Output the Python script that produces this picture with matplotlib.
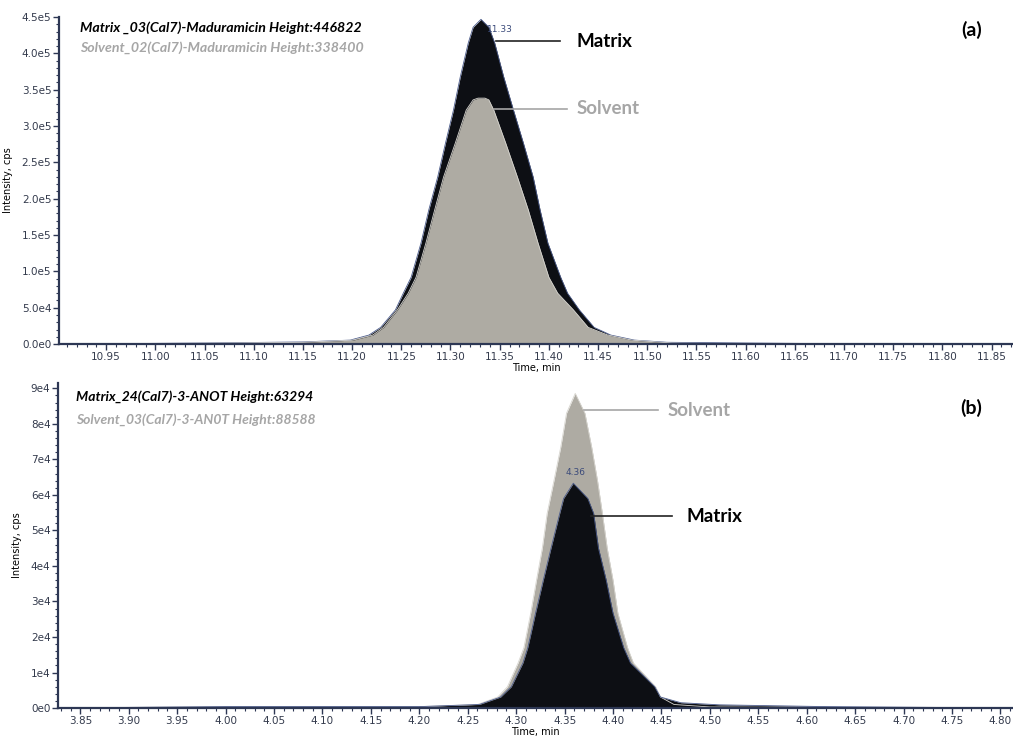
import numpy as np
import matplotlib.pyplot as plt
from matplotlib.ticker import MultipleLocator, FuncFormatter

# panel (a): Maduramicin, time (min) / intensity (cps)
t_mat_a = [10.90, 11.05, 11.15, 11.198, 11.217, 11.229, 11.244, 11.252, 11.260, 11.270, 11.278,
           11.287, 11.295, 11.303, 11.310, 11.318, 11.323, 11.331, 11.339, 11.345, 11.354,
           11.364, 11.374, 11.384, 11.391, 11.399, 11.412, 11.419, 11.431, 11.446, 11.463,
           11.487, 11.52, 11.60, 11.67, 11.87]
i_mat_a = [0, 1500, 3000, 5500, 12400, 23000, 47000, 70000, 92000, 139000, 185000,
           230000, 277000, 322000, 368000, 414000, 436000, 446822, 436000, 414000, 368000,
           322000, 277000, 230000, 185000, 139000, 92000, 70000, 47000, 23000, 12400,
           5500, 2500, 1500, 800, 0]
t_sol_a = [10.90, 11.05, 11.15, 11.201, 11.221, 11.232, 11.246, 11.257, 11.265, 11.275, 11.284,
           11.293, 11.305, 11.316, 11.323, 11.328, 11.335, 11.339, 11.344, 11.356, 11.368,
           11.379, 11.389, 11.400, 11.409, 11.425, 11.440, 11.460, 11.484, 11.525, 11.60, 11.87]
i_sol_a = [0, 1200, 2500, 5500, 12400, 23000, 47000, 70000, 92000, 139000, 185000,
           230000, 277000, 322000, 336000, 338400, 338400, 336000, 322000, 277000, 230000,
           185000, 139000, 92000, 70000, 47000, 23000, 12400, 5500, 1500, 500, 0]

# panel (b): 3-ANOT
t_sol_b = [3.82, 4.00, 4.20, 4.260, 4.281, 4.291, 4.302, 4.308, 4.315, 4.321, 4.327, 4.332,
           4.339, 4.346, 4.352, 4.361, 4.371, 4.378, 4.384, 4.389, 4.394, 4.400, 4.405,
           4.415, 4.421, 4.444, 4.449, 4.463, 4.50, 4.82]
i_sol_b = [0, 400, 400, 1000, 3100, 6000, 12700, 17000, 26700, 36000, 45000, 54800,
           64000, 73400, 83000, 88588, 83000, 73400, 64000, 54800, 45000, 36000, 26700,
           17000, 12700, 6000, 3100, 1000, 300, 0]
t_mat_b = [3.82, 4.00, 4.20, 4.262, 4.284, 4.295, 4.307, 4.312, 4.320, 4.328, 4.336, 4.345,
           4.349, 4.359, 4.374, 4.380, 4.385, 4.393, 4.400, 4.411, 4.418, 4.443, 4.449,
           4.470, 4.51, 4.62, 4.82]
i_mat_b = [0, 400, 400, 1000, 3100, 6000, 12700, 17000, 26700, 36000, 45000, 54800,
           59000, 63294, 59000, 54800, 45000, 36000, 26700, 17000, 12700, 6000, 3100,
           1500, 900, 400, 0]

BLACK = '#0d0f14'
GREY = '#aeaba3'
TXTGREY = '#a6a6a6'
NAVY = '#2d3754'
tickfont = ['Liberation Sans Narrow', 'DejaVu Sans']
labfont = ['Lato', 'DejaVu Sans']

fig = plt.figure(figsize=(10.13, 7.40), dpi=100)
ax1 = fig.add_axes([0.0582, 0.535, 0.942, 0.442])
ax2 = fig.add_axes([0.0573, 0.0432, 0.9427, 0.4392])


def style(ax, xmaj, xmin, ymaj, ymin, yfmt):
    for s in ['top', 'right']:
        ax.spines[s].set_visible(False)
    for s in ['left', 'bottom']:
        ax.spines[s].set_color(NAVY)
        ax.spines[s].set_linewidth(1.6)
    ax.xaxis.set_major_locator(MultipleLocator(xmaj))
    ax.xaxis.set_minor_locator(MultipleLocator(xmin))
    ax.yaxis.set_major_locator(MultipleLocator(ymaj))
    ax.yaxis.set_minor_locator(MultipleLocator(ymin))
    ax.xaxis.set_major_formatter(FuncFormatter(lambda v, p: f'{v:.2f}'))
    ax.yaxis.set_major_formatter(FuncFormatter(yfmt))
    ax.tick_params(which='major', length=4, width=1, color=NAVY, labelsize=7.5,
                   labelcolor='#333a4c', pad=1.5)
    ax.tick_params(which='minor', length=2, width=0.8, color=NAVY)
    for lab in ax.get_xticklabels() + ax.get_yticklabels():
        lab.set_family(tickfont)


def fmt_a(v, p):
    if v < 0:
        return ''
    if v == 0:
        return '0.0e0'
    e = int(np.floor(np.log10(v)))
    return f'{v / 10**e:.1f}e{e}'


def fmt_b(v, p):
    if v < 0:
        return ''
    if v == 0:
        return '0e0'
    e = int(np.floor(np.log10(v)))
    return f'{v / 10**e:.0f}e{e}'


# (a)
ax1.fill_between(t_mat_a, i_mat_a, color=BLACK, lw=0)
ax1.plot(t_mat_a, i_mat_a, color='#4a5a8a', lw=0.6)
ax1.fill_between(t_sol_a, i_sol_a, color=GREY, lw=0)
ax1.plot(t_sol_a, i_sol_a, color='#d8d6d0', lw=0.6)
ax1.set_xlim(10.902, 11.872)
ax1.set_ylim(0, 4.5e5)
style(ax1, 0.05, 0.01, 5e4, 1e4, fmt_a)
ax1.set_xlabel('Time, min', fontsize=7, family=tickfont, labelpad=1)
ax1.set_ylabel('Intensity, cps', fontsize=7, family=tickfont, labelpad=6)

ax1.text(0.022, 0.969, 'Matrix _03(Cal7)-Maduramicin Height:446822', transform=ax1.transAxes,
         fontsize=10.2, fontweight='bold', style='italic', color='black', va='center', family=labfont)
ax1.text(0.022, 0.908, 'Solvent_02(Cal7)-Maduramicin Height:338400', transform=ax1.transAxes,
         fontsize=10.2, fontweight='bold', style='italic', color=TXTGREY, va='center', family=labfont)
ax1.text(0.956, 0.960, '(a)', transform=ax1.transAxes, fontsize=14, fontweight='bold',
         ha='center', va='center', family=labfont)
ax1.text(11.337, 433000, '11.33', fontsize=6.5, color='#3a4a7a', va='center', family=tickfont)
ax1.plot([11.346, 11.411], [417000, 417000], color='#222222', lw=1.2)
ax1.text(11.428, 417000, 'Matrix', fontsize=13.5, fontweight='bold', color='black',
         va='center', family=labfont)
ax1.plot([11.344, 11.418], [323600, 323600], color=TXTGREY, lw=1.2)
ax1.text(11.428, 323600, 'Solvent', fontsize=13.5, fontweight='bold', color=TXTGREY,
         va='center', family=labfont)

# (b)
ax2.fill_between(t_sol_b, i_sol_b, color=GREY, lw=0)
ax2.plot(t_sol_b, i_sol_b, color='#d8d6d0', lw=0.6)
ax2.fill_between(t_mat_b, i_mat_b, color=BLACK, lw=0)
ax2.plot(t_mat_b, i_mat_b, color='#4a5a8a', lw=0.6)
ax2.set_xlim(3.827, 4.813)
ax2.set_ylim(0, 9.15e4)
style(ax2, 0.05, 0.01, 1e4, 2e3, fmt_b)
ax2.set_xlabel('Time, min', fontsize=7, family=tickfont, labelpad=1)
ax2.set_ylabel('Intensity, cps', fontsize=7, family=tickfont, labelpad=6)

ax2.text(0.019, 0.957, 'Matrix_24(Cal7)-3-ANOT Height:63294', transform=ax2.transAxes,
         fontsize=10, fontweight='bold', style='italic', color='black', va='center', family=labfont)
ax2.text(0.019, 0.886, 'Solvent_03(Cal7)-3-AN0T Height:88588', transform=ax2.transAxes,
         fontsize=10, fontweight='bold', style='italic', color=TXTGREY, va='center', family=labfont)
ax2.text(0.956, 0.923, '(b)', transform=ax2.transAxes, fontsize=14, fontweight='bold',
         ha='center', va='center', family=labfont)
ax2.text(4.361, 65000, '4.36', fontsize=6.5, color='#3a4a7a', ha='center', va='bottom',
         family=tickfont)
ax2.plot([4.370, 4.446], [83800, 83800], color=TXTGREY, lw=1.2)
ax2.text(4.456, 83800, 'Solvent', fontsize=13.5, fontweight='bold', color=TXTGREY,
         va='center', family=labfont)
ax2.plot([4.377, 4.461], [54000, 54000], color='#222222', lw=1.2)
ax2.text(4.476, 54000, 'Matrix', fontsize=13.5, fontweight='bold', color='black',
         va='center', family=labfont)

fig.savefig('out.png', dpi=100)
